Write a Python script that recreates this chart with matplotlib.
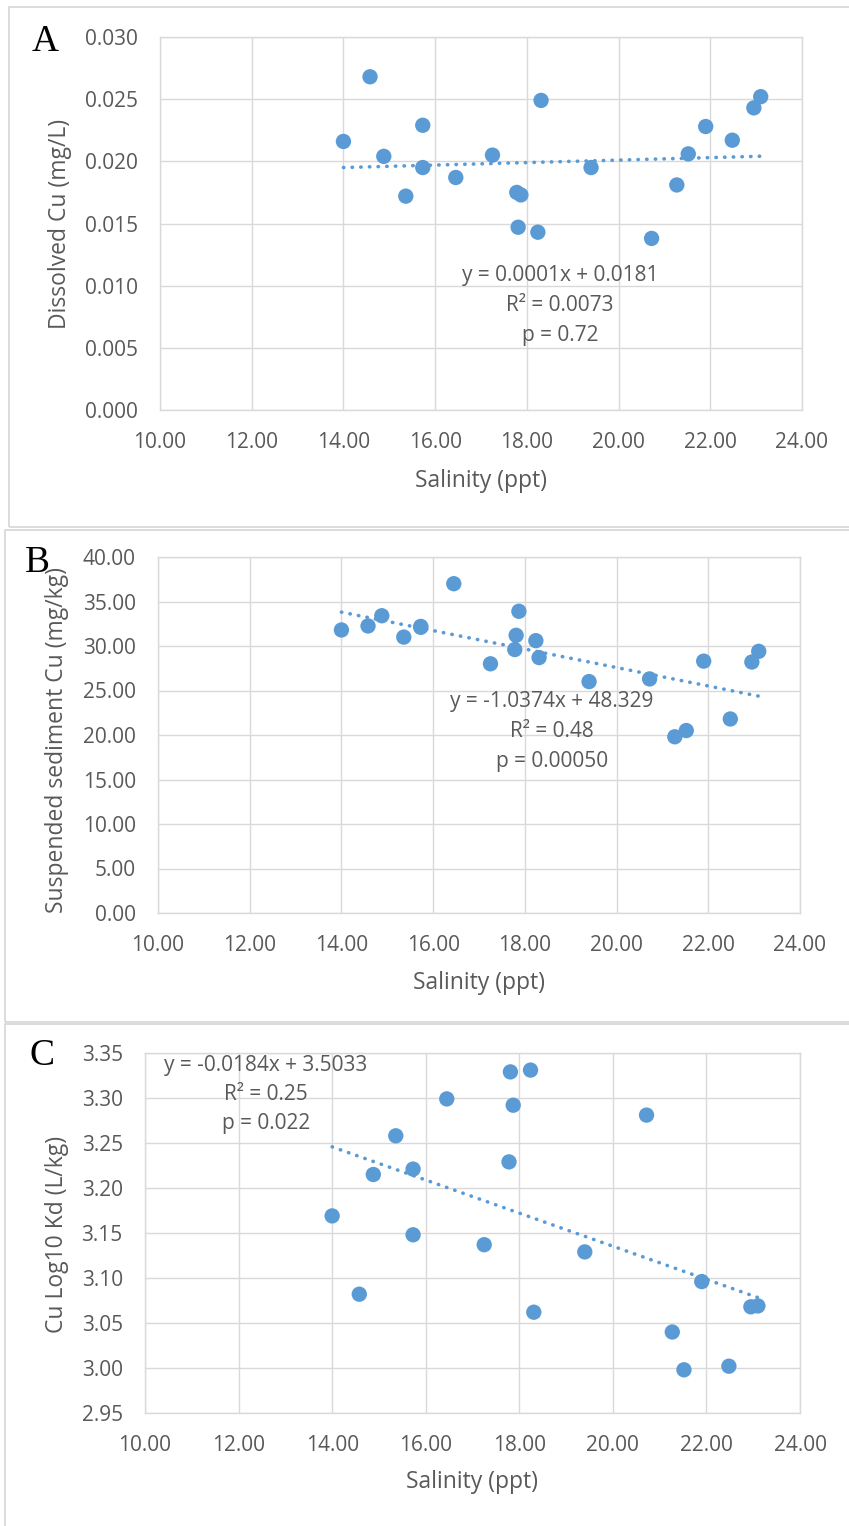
import matplotlib
matplotlib.use("Agg")
import matplotlib.pyplot as plt
from matplotlib.patches import Rectangle
import numpy as np

# Salinity of each sample (ppt)
salinity = [14.00, 14.58, 14.88, 15.36, 15.73, 15.73, 16.45, 17.25, 17.78, 17.81,
            17.87, 18.24, 18.31, 19.40, 20.72, 21.27, 21.52, 21.90, 22.48, 22.95, 23.10]

# Dissolved copper (mg/L)
dissolved_cu = [0.0216, 0.0268, 0.0204, 0.0172, 0.0229, 0.0195, 0.0187, 0.0205, 0.0175, 0.0147,
                0.0173, 0.0143, 0.0249, 0.0195, 0.0138, 0.0181, 0.0206, 0.0228, 0.0217, 0.0243, 0.0252]

# Copper on suspended sediment (mg/kg)
sediment_cu = [31.8, 32.25, 33.4, 31.0, 32.2, 32.1, 37.0, 28.0, 29.6, 31.2,
               33.9, 30.6, 28.7, 26.0, 26.3, 19.8, 20.5, 28.3, 21.8, 28.2, 29.4]

# Partition coefficient, log10 Kd (L/kg)
log_kd = [3.169, 3.082, 3.215, 3.258, 3.148, 3.221, 3.299, 3.137, 3.229, 3.329,
          3.292, 3.331, 3.062, 3.129, 3.281, 3.040, 2.998, 3.096, 3.002, 3.068, 3.069]

# Linear trendlines (slope, intercept) with fit statistics
fit_a = (0.0001, 0.0181)
fit_b = (-1.0374, 48.329)
fit_c = (-0.0184, 3.5033)
stats_a = ["y = 0.0001x + 0.0181", "R\u00b2 = 0.0073", "p = 0.72"]
stats_b = ["y = -1.0374x + 48.329", "R\u00b2 = 0.48", "p = 0.00050"]
stats_c = ["y = -0.0184x + 3.5033", "R\u00b2 = 0.25", "p = 0.022"]

x_ticks = [10, 12, 14, 16, 18, 20, 22, 24]

W, H = 849, 1526
BLUE = "#5B9BD5"
GRID = "#D9D9D9"
TXT = "#595959"
SANS = ["Open Sans", "DejaVu Sans"]

fig = plt.figure(figsize=(W / 100, H / 100), dpi=100)


def fx(x):
    return x / W


def fy(y):
    return 1 - y / H


def panel_axes(left, top, right, bottom):
    return fig.add_axes([fx(left), fy(bottom), (right - left) / W, (bottom - top) / H])


# panel frames
for (l, t, r, b) in [(9, 7, 880, 527), (5, 530, 880, 1022), (5, 1024, 880, 1560)]:
    fig.patches.append(Rectangle((fx(l), fy(b)), (r - l) / W, (b - t) / H,
                                 transform=fig.transFigure, fill=False,
                                 edgecolor=GRID, linewidth=1.3))


def draw_panel(ax, yvals, fit, ylim, yticks, yfmt, stats, stats_xy, letter, letter_xy,
               ylabel, ylabel_xy, xlabel_y):
    ax.set_xlim(10, 24)
    ax.set_ylim(*ylim)
    ax.set_xticks(x_ticks)
    ax.set_xticklabels([f"{v:.2f}" for v in x_ticks])
    ax.set_yticks(yticks)
    ax.set_yticklabels([yfmt.format(v) for v in yticks])
    ax.grid(True, color=GRID, linewidth=1.0)
    ax.set_axisbelow(True)
    for s in ax.spines.values():
        s.set_color(GRID)
        s.set_linewidth(1.0)
    ax.tick_params(length=0, labelsize=15, labelcolor=TXT, pad=16)
    for lab in ax.get_xticklabels() + ax.get_yticklabels():
        lab.set_family(SANS)

    ax.scatter(salinity, yvals, s=122, color=BLUE, edgecolors="none", zorder=3)

    xs = np.array([min(salinity), max(salinity)])
    ys = fit[0] * xs + fit[1]
    ax.plot(xs, ys, color=BLUE, linewidth=2.6, linestyle=(0, (0.1, 2.3)),
            dash_capstyle="round", zorder=4)

    sx, sy = stats_xy
    for i, line in enumerate(stats):
        fig.text(fx(sx), fy(sy + i * 29.5), line, ha="center", va="center",
                 fontsize=15, color=TXT, family=SANS)

    fig.text(fx(letter_xy[0]), fy(letter_xy[1]), letter, ha="center", va="center",
             fontsize=27, color="black", family=["Liberation Serif", "DejaVu Serif"])
    fig.text(fx(ylabel_xy[0]), fy(ylabel_xy[1]), ylabel, rotation=90, ha="center",
             va="center", fontsize=16.5, color=TXT, family=SANS)
    bb = ax.get_position()
    fig.text(bb.x0 + bb.width / 2, fy(xlabel_y), "Salinity (ppt)", ha="center",
             va="center", fontsize=16.5, color=TXT, family=SANS)


ax_a = panel_axes(160, 37, 802, 410)
draw_panel(ax_a, dissolved_cu, fit_a, (0, 0.030), [0, 0.005, 0.010, 0.015, 0.020, 0.025, 0.030],
           "{:.3f}", stats_a, (560, 276), "A", (45, 42), "Dissolved Cu (mg/L)", (60, 224), 481)

ax_b = panel_axes(158, 557, 800, 913)
draw_panel(ax_b, sediment_cu, fit_b, (0, 40), [0, 5, 10, 15, 20, 25, 30, 35, 40],
           "{:.2f}", stats_b, (552, 702), "B", (37, 563), "Suspended sediment Cu (mg/kg)",
           (57, 740), 983)

ax_c = panel_axes(145, 1053, 800, 1413)
draw_panel(ax_c, log_kd, fit_c, (2.95, 3.35),
           [2.95, 3.00, 3.05, 3.10, 3.15, 3.20, 3.25, 3.30, 3.35],
           "{:.2f}", stats_c, (266, 1065), "C", (42, 1056), "Cu Log10 Kd (L/kg)",
           (57, 1234), 1482)

fig.savefig("out.png", dpi=100, facecolor="white")
